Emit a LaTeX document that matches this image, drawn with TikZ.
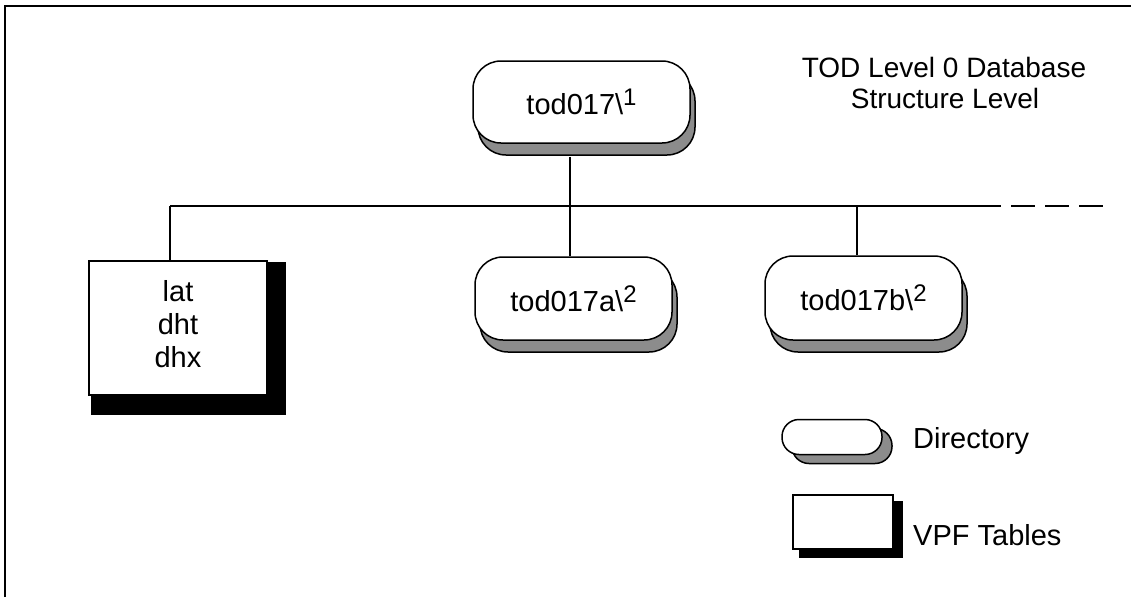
\documentclass[tikz,border=0pt]{standalone}
\usepackage{fontspec}
\setmainfont{Liberation Sans}
\usetikzlibrary{shadows,backgrounds,calc}
\newcommand\supr[1]{\raisebox{9pt}{\fontsize{24}{24}\selectfont #1}}
\setlength\tabcolsep{0pt}
\begin{document}
\begin{tikzpicture}[x=1pt,y=-1pt,
  lbl/.style={font=\fontsize{29}{33}\selectfont},
  dirshadow/.style={fill=black!45, draw=black, line width=1.5pt, opacity=1},
  dirnode/.style={draw, line width=1.5pt, fill=white, rounded corners=28pt, inner sep=0pt, lbl,
     drop shadow={shadow xshift=5pt, shadow yshift=-12pt, dirshadow}},
  tblnode/.style={draw, line width=1.2pt, fill=white, inner sep=0pt, lbl, align=center},
  conn/.style={line width=1.6pt},
  frame/.style={line width=2.5pt}]
\useasboundingbox (0,0) rectangle (1131,597);
\draw[frame] (5,597) -- (5,6) -- (1131,6);

% directory nodes
\node[dirnode, minimum width=217pt, minimum height=82pt] (top) at (581.5,102) {tod017\textbackslash\supr{1}\hspace{14pt}};
\node[dirnode, minimum width=197pt, minimum height=83pt] (a) at (573.5,298.5) {tod017a\textbackslash\supr{2}};
\node[dirnode, minimum width=197pt, minimum height=84pt] (b) at (863.5,298) {tod017b\textbackslash\supr{2}};

% table node
\node[tblnode, minimum width=178pt, minimum height=134pt] (lat) at (178,328)
  {\raisebox{6pt}{\begin{tabular}{c}lat\\dht\\dhx\end{tabular}}};

% legend
\node[draw, line width=1.5pt, fill=white, rounded corners=17pt, minimum width=100pt, minimum height=35pt,
  drop shadow={shadow xshift=10pt, shadow yshift=-9pt, dirshadow}] (ldir) at (832,437) {};
\node[tblnode, minimum width=100pt, minimum height=54pt] (ltbl) at (843,522) {};
\node[lbl, anchor=base west, inner sep=0pt] (tdir) at (913,448) {Directory};
\node[lbl, anchor=base west, inner sep=0pt] (ttbl) at (913,545) {VPF Tables};

% title
\node[font=\fontsize{28}{31}\selectfont, anchor=base, inner sep=0pt] (title1) at (944,77) {TOD Level 0 Database};
\node[font=\fontsize{28}{31}\selectfont, anchor=base, inner sep=0pt] (title2) at (945,108) {Structure Level};

% table shadows
\begin{scope}[on background layer]
\fill ($(lat.north west)+(3,2)$) rectangle ($(lat.south east)+(18,19)$);
\fill ($(ltbl.north west)+(7,7)$) rectangle ($(ltbl.south east)+(9,8)$);
\end{scope}

% connectors
\coordinate (h0) at (170,206);
\coordinate (h1) at (1001,206);
\coordinate (m) at (570,206);
\coordinate (r) at (857,206);
\coordinate (d0) at (1011,206);
\coordinate (d1) at (1104,206);
\draw[conn] (h0) -- (h1);
\draw[conn] (h0) -- (h0 |- lat.north);
\draw[conn] ($(m |- top.south)+(0,13)$) -- (m |- a.north);
\draw[conn] (r) -- (r |- b.north);
\draw[conn, dash pattern=on 24pt off 10pt] (d0) -- (d1);
\end{tikzpicture}
\end{document}
